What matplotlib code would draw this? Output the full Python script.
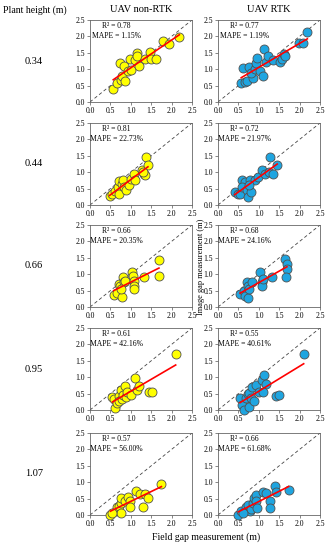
import numpy as np
import matplotlib.pyplot as plt

plt.rcParams['font.family'] = ['Liberation Serif', 'DejaVu Serif']

heights = ['0.34', '0.44', '0.66', '0.95', '1.07']
col_titles = ['UAV non-RTK', 'UAV RTK']

r2 = [['0.78', '0.77'], ['0.81', '0.72'], ['0.66', '0.68'], ['0.61', '0.55'], ['0.57', '0.66']]
mape = [['1.15%', '1.19%'], ['22.73%', '21.97%'], ['20.35%', '24.16%'],
        ['42.16%', '40.61%'], ['56.00%', '61.68%']]

nr_034_x = [0.57, 0.66, 0.75, 0.78, 0.86, 0.74, 0.84, 0.93, 1.00, 0.98, 1.10, 1.15, 1.16, 1.21, 1.35, 1.48, 1.49, 1.61, 1.80, 1.93, 2.19]
nr_034_y = [0.41, 0.58, 0.68, 0.79, 0.63, 1.20, 1.09, 0.94, 0.97, 1.30, 1.28, 1.48, 1.40, 1.10, 1.31, 1.53, 1.31, 1.31, 1.86, 1.77, 1.99]
rt_034_x = [0.57, 0.66, 0.72, 0.86, 0.61, 0.76, 0.82, 0.90, 0.93, 0.96, 1.02, 1.11, 1.12, 1.17, 1.23, 1.35, 1.52, 1.58, 1.61, 1.64, 1.98, 2.09, 2.19]
rt_034_y = [0.58, 0.62, 0.65, 0.73, 1.03, 1.06, 0.89, 1.01, 1.19, 1.34, 0.96, 0.80, 1.63, 1.22, 1.39, 1.29, 1.22, 1.32, 1.47, 1.39, 1.80, 1.80, 2.12]

nr_044_x = [0.48, 0.55, 0.62, 0.68, 0.72, 0.70, 0.78, 0.82, 0.84, 0.88, 0.95, 1.00, 1.07, 1.10, 1.28, 1.32, 1.34, 1.38, 1.42, 1.30]
nr_044_y = [0.28, 0.33, 0.43, 0.54, 0.35, 0.74, 0.65, 0.76, 0.54, 0.45, 0.62, 0.80, 0.95, 0.75, 1.07, 0.95, 0.90, 1.46, 1.21, 1.00]
rt_044_x = [0.41, 0.50, 0.54, 0.58, 0.66, 0.58, 0.70, 0.74, 0.79, 0.80, 0.90, 0.99, 1.07, 1.16, 1.24, 1.28, 1.36, 1.45, 0.75]
rt_044_y = [0.39, 0.34, 0.34, 0.75, 0.70, 0.55, 0.45, 0.24, 0.75, 0.40, 0.75, 0.86, 1.06, 0.96, 1.01, 1.47, 0.96, 1.22, 0.60]

nr_066_x = [0.58, 0.66, 0.79, 0.70, 0.74, 0.81, 0.83, 0.87, 1.03, 1.05, 1.07, 1.07, 1.09, 1.32, 1.68, 1.69, 0.75]
nr_066_y = [0.36, 0.44, 0.31, 0.70, 0.65, 0.91, 0.75, 0.80, 1.06, 0.96, 0.80, 0.65, 0.55, 0.91, 0.93, 1.42, 0.55]
rt_066_x = [0.54, 0.63, 0.67, 0.73, 0.71, 0.73, 0.76, 0.83, 1.04, 1.07, 1.08, 1.10, 1.33, 1.63, 1.68, 1.69, 1.67]
rt_066_y = [0.41, 0.49, 0.34, 0.27, 0.75, 0.65, 0.55, 0.75, 1.06, 0.75, 0.65, 0.85, 0.91, 1.47, 1.30, 1.16, 0.91]

nr_095_x = [0.55, 0.60, 0.62, 0.65, 0.70, 0.72, 0.75, 0.78, 0.80, 0.85, 0.88, 0.90, 1.00, 1.10, 1.15, 1.20, 1.45, 1.52, 2.10]
nr_095_y = [0.40, 0.35, 0.05, 0.20, 0.42, 0.28, 0.62, 0.35, 0.45, 0.72, 0.40, 0.55, 0.45, 0.97, 0.62, 0.72, 0.55, 0.55, 1.72]
rt_095_x = [0.54, 0.58, 0.63, 0.68, 0.73, 0.75, 0.80, 0.77, 0.88, 0.83, 0.92, 1.00, 1.08, 1.13, 1.17, 1.10, 1.42, 1.50, 2.10]
rt_095_y = [0.36, 0.15, 0.00, 0.38, 0.49, 0.52, 0.38, 0.10, 0.26, 0.71, 0.77, 0.56, 0.92, 1.07, 0.78, 0.56, 0.43, 0.46, 1.70]

nr_107_x = [0.50, 0.63, 0.67, 0.71, 0.75, 0.77, 0.86, 0.92, 0.97, 0.97, 1.13, 1.22, 1.34, 1.43, 1.30, 1.75, 0.76, 0.55]
nr_107_y = [0.00, 0.12, 0.23, 0.28, 0.38, 0.52, 0.43, 0.56, 0.43, 0.23, 0.74, 0.64, 0.64, 0.52, 0.23, 0.95, 0.07, 0.05]
rt_107_x = [0.50, 0.56, 0.68, 0.73, 0.78, 0.81, 0.85, 0.89, 0.92, 0.93, 0.95, 1.10, 1.18, 1.27, 1.28, 1.39, 1.42, 1.73, 0.62]
rt_107_y = [0.00, 0.13, 0.24, 0.32, 0.13, 0.19, 0.36, 0.53, 0.60, 0.44, 0.22, 0.70, 0.66, 0.42, 0.22, 0.87, 0.70, 0.77, 0.05]

data = [[(nr_034_x, nr_034_y), (rt_034_x, rt_034_y)],
        [(nr_044_x, nr_044_y), (rt_044_x, rt_044_y)],
        [(nr_066_x, nr_066_y), (rt_066_x, rt_066_y)],
        [(nr_095_x, nr_095_y), (rt_095_x, rt_095_y)],
        [(nr_107_x, nr_107_y), (rt_107_x, rt_107_y)]]

colors = ['#FFFF00', '#1FA5E0']

W, H = 330, 550
fig = plt.figure(figsize=(3.3, 5.5), dpi=100)

col_left = [90, 218]
ax_w = 102
ax_h = 82
row_top = [20, 123, 225, 328, 433]

for i in range(5):
    for j in range(2):
        l = col_left[j] / W
        b = 1 - (row_top[i] + ax_h) / H
        ax = fig.add_axes([l, b, ax_w / W, ax_h / H])
        x = np.array(data[i][j][0])
        y = np.array(data[i][j][1])
        ax.plot([0, 2.5], [0, 2.5], color='#444444', ls=(0, (4, 3)), lw=0.6, zorder=1)
        ax.scatter(x, y, s=42, c=colors[j], edgecolors='#505050', linewidths=0.6, zorder=3, clip_on=False)
        k, c0 = np.polyfit(x, y, 1)
        xx = np.array([x.min(), x.max()])
        ax.plot(xx, k * xx + c0, color='#FF0000', lw=1.2, zorder=4)
        ax.text(0.65, 2.45, 'R² = ' + r2[i][j] + '\nMAPE = ' + mape[i][j], ha='center', va='top',
                fontsize=5.5, linespacing=1.35)
        ax.set_xlim(0, 2.5)
        ax.set_ylim(0, 2.5)
        ax.set_xticks(np.arange(0, 2.51, 0.5))
        ax.set_yticks(np.arange(0, 2.51, 0.5))
        ax.set_xticklabels(['%.1f' % v for v in np.arange(0, 2.51, 0.5)])
        ax.set_yticklabels(['%.1f' % v for v in np.arange(0, 2.51, 0.5)])
        ax.tick_params(labelsize=5.5, length=2, width=0.5, pad=1.5, color='#555555')
        for s in ax.spines.values():
            s.set_linewidth(0.6)
            s.set_color('#666666')
    fig.text(34 / W, 1 - (row_top[i] + ax_h / 2) / H, heights[i], ha='center', va='center', fontsize=7.5)

fig.text(141 / W, 1 - 10 / H, col_titles[0], ha='center', va='center', fontsize=7.5)
fig.text(269 / W, 1 - 10 / H, col_titles[1], ha='center', va='center', fontsize=7.5)
fig.text(35 / W, 1 - 10 / H, 'Plant height (m)', ha='center', va='center', fontsize=7)
fig.text(201 / W, 1 - 267 / H, 'Image gap measurement (m)', rotation=90, ha='center', va='center', fontsize=6)
fig.text(206 / W, 1 - 537 / H, 'Field gap measurement (m)', ha='center', va='center', fontsize=7)

plt.savefig('out.png', dpi=100)
